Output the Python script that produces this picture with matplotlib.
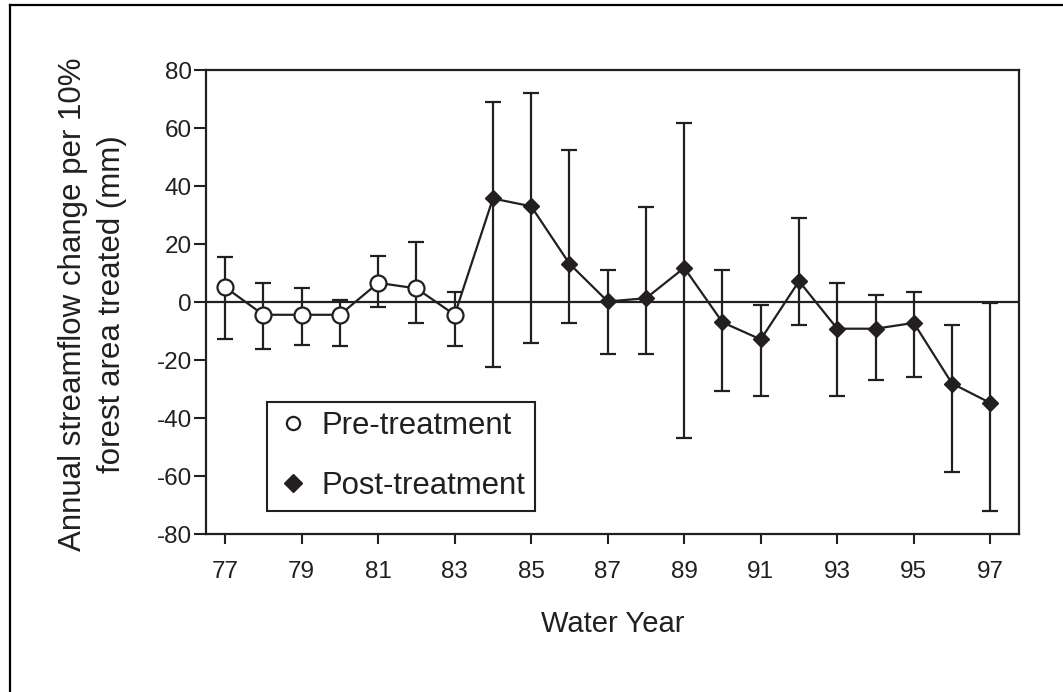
import matplotlib
matplotlib.use("Agg")
import matplotlib.pyplot as plt
from matplotlib.lines import Line2D

plt.rcParams['font.family'] = ['Liberation Sans', 'DejaVu Sans']

INK = '#231f20'

# Water years and the estimated streamflow change (mm) with interval bounds
pre_years = [77, 78, 79, 80, 81, 82, 83]
pre_change = [5.1, -4.4, -4.4, -4.4, 6.6, 4.7, -4.4]
pre_upper = [15.6, 6.5, 4.8, 0.6, 16.0, 20.8, 3.6]
pre_lower = [-12.8, -16.1, -14.8, -15.2, -1.7, -7.4, -15.2]

post_years = [84, 85, 86, 87, 88, 89, 90, 91, 92, 93, 94, 95, 96, 97]
post_change = [35.7, 33.0, 13.2, 0.2, 1.3, 11.8, -7.0, -12.9, 7.2, -9.2, -9.2, -7.2, -28.1, -34.8]
post_upper = [68.9, 72.0, 52.5, 10.9, 32.6, 61.7, 10.9, -0.9, 29.0, 6.5, 2.5, 3.6, -7.9, -0.5]
post_lower = [-22.5, -14.3, -7.4, -17.8, -17.8, -46.8, -30.8, -32.5, -7.8, -32.5, -26.8, -25.9, -58.6, -72.0]

x_ticks = [77, 79, 81, 83, 85, 87, 89, 91, 93, 95, 97]
y_ticks = [-80, -60, -40, -20, 0, 20, 40, 60, 80]

fig = plt.figure(figsize=(10.63, 6.92), dpi=100)
ax = fig.add_axes([0.1938, 0.2283, 0.9586 - 0.1938, 0.8988 - 0.2283])

# zero reference line
ax.axhline(0, color=INK, lw=1.6, zorder=1)

# connecting line through all years
all_years = pre_years + post_years
all_change = pre_change + post_change
ax.plot(all_years, all_change, color=INK, lw=1.6, zorder=2)

def err(vals, up, lo):
    return [[v - l for v, l in zip(vals, lo)], [u - v for v, u in zip(vals, up)]]

ax.errorbar(pre_years, pre_change, yerr=err(pre_change, pre_upper, pre_lower),
            fmt='none', ecolor=INK, elinewidth=1.6, capsize=6, capthick=1.6, zorder=2)
ax.errorbar(post_years, post_change, yerr=err(post_change, post_upper, post_lower),
            fmt='none', ecolor=INK, elinewidth=1.6, capsize=6, capthick=1.6, zorder=2)

ax.plot(pre_years, pre_change, linestyle='none', marker='o', ms=11.5,
        mfc='white', mec=INK, mew=1.6, zorder=3)
ax.plot(post_years, post_change, linestyle='none', marker='D', ms=8.5,
        mfc=INK, mec=INK, mew=1.0, zorder=3)

ax.set_xlim(76.5, 97.75)
ax.set_ylim(-80, 80)
ax.set_xticks(x_ticks)
ax.set_yticks(y_ticks)
ax.set_xticklabels([str(v) for v in x_ticks])
ax.set_yticklabels([str(v) for v in y_ticks])
ax.tick_params(direction='out', width=1.5, color=INK,
               labelsize=17.5, labelcolor=INK)
ax.tick_params(axis='x', length=7.2, pad=12.5)
ax.tick_params(axis='y', length=8.6, pad=1.5)
for s in ax.spines.values():
    s.set_color(INK)
    s.set_linewidth(1.6)

fig.text(0.5762, 1 - 624 / 692, 'Water Year', ha='center', va='center',
         fontsize=21, color=INK)
fig.text(92.5 / 1063, 1 - 304 / 692,
         'Annual streamflow change per 10%\nforest area treated (mm)',
         rotation=90, ha='center', va='center', fontsize=22.5, color=INK,
         linespacing=1.35, multialignment='center')

handles = [
    Line2D([], [], linestyle='none', marker='o', ms=9.5, mfc='white', mec=INK, mew=1.6),
    Line2D([], [], linestyle='none', marker='D', ms=9, mfc=INK, mec=INK),
]
leg = ax.legend(handles, ['Pre-treatment', 'Post-treatment'],
                loc='upper left', bbox_to_anchor=((267 - 206) / 813, (534 - 402) / 464),
                frameon=True, fancybox=False, shadow=False, fontsize=22.4,
                framealpha=1, handlelength=1.1, handletextpad=0.35, labelspacing=0.96,
                borderpad=0.3, borderaxespad=0, labelcolor=INK)
leg.get_frame().set_edgecolor(INK)
leg.get_frame().set_linewidth(1.5)

# frame lines along the top and left of the figure
fig.add_artist(Line2D([10 / 1063, 10 / 1063], [0, 1 - 5 / 692], color='black', lw=1.6,
                      transform=fig.transFigure))
fig.add_artist(Line2D([10 / 1063, 1], [1 - 5 / 692, 1 - 5 / 692], color='black', lw=1.6,
                      transform=fig.transFigure))

fig.savefig('out.png', dpi=100)
